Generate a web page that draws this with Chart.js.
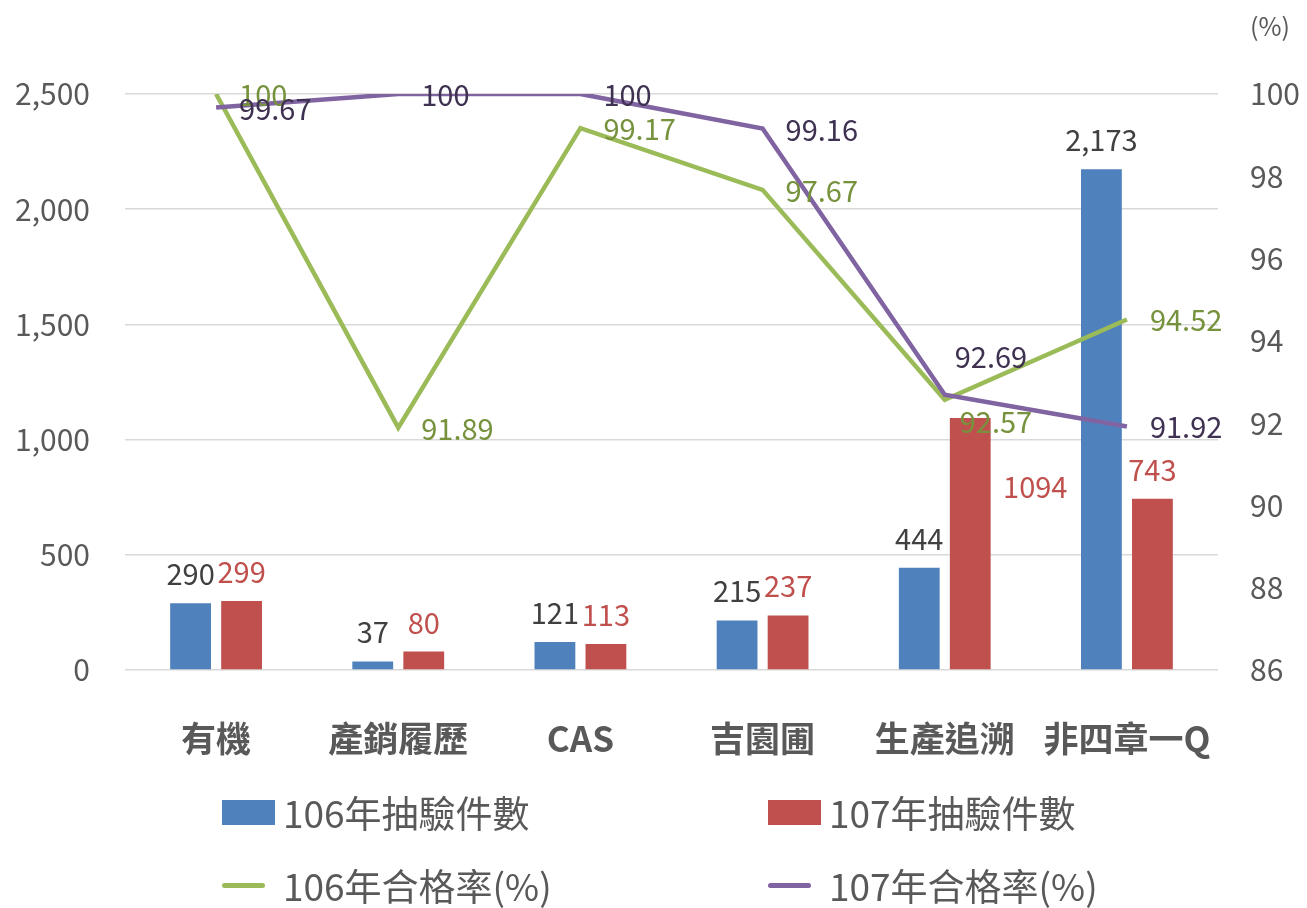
<!DOCTYPE html>
<html>
<head>
<meta charset="utf-8">
<script src="https://cdn.jsdelivr.net/npm/chart.js@4"></script>
<style>
  html, body { margin: 0; padding: 0; background: #fff; }
  #wrap { position: relative; width: 1307px; height: 908px; overflow: hidden; }
  #legend { position: absolute; left: 0; top: 0; width: 1307px; height: 908px; pointer-events: none;
            font-family: 'Noto Sans CJK TC', 'Noto Sans', sans-serif; color: #595959; font-size: 37px; }
  .lg-item { position: absolute; display: flex; align-items: center; height: 44px; }
  .lg-mark { flex: none; margin-right: 8px; }
</style>
</head>
<body>
<div id="wrap">
  <canvas id="chart" width="1307" height="908"></canvas>
  <div id="legend"></div>
</div>
<script>
// data
const categories = ['有機', '產銷履歷', 'CAS', '吉園圃', '生產追溯', '非四章一Q'];
const count106 = [290, 37, 121, 215, 444, 2173];
const count107 = [299, 80, 113, 237, 1094, 743];
const rate106 = [100, 91.89, 99.17, 97.67, 92.57, 94.52];
const rate107 = [99.67, 100, 100, 99.16, 92.69, 91.92];
const countTicks = [0, 500, 1000, 1500, 2000, 2500];
const rateTicks = [86, 88, 90, 92, 94, 96, 98, 100];

const FONT = "'Noto Sans CJK TC', 'Noto Sans', sans-serif";
const GRAY = '#595959';

// label colours / formats per dataset
const labelStyle = [
    { color: '#404040', fmt: v => v.toLocaleString('en-US') },
    { color: '#C0504D', fmt: v => String(v) },
    { color: '#76923C', fmt: v => String(v) },
    { color: '#3F3151', fmt: v => String(v) }
];
// hand-moved labels in the original: [dataset][point] -> [dx, dy]
const labelNudge = {
    1: { 4: [65, 98] },
    2: { 4: [-8, 21] },
    3: { 4: [-13, -39] }
};

const dataLabels = {
    id: 'dataLabels',
    afterDatasetsDraw(chart) {
        const ctx = chart.ctx;
        ctx.save();
        ctx.font = '29px ' + FONT;
        chart.data.datasets.forEach((ds, i) => {
            const meta = chart.getDatasetMeta(i);
            const st = labelStyle[i];
            meta.data.forEach((el, j) => {
                const p = el.getProps(['x', 'y'], true);
                const n = (labelNudge[i] && labelNudge[i][j]) || [0, 0];
                ctx.fillStyle = st.color;
                ctx.textBaseline = 'middle';
                if (ds.type === 'bar') {
                    ctx.textAlign = 'center';
                    ctx.fillText(st.fmt(ds.data[j]), p.x + n[0], p.y - 29 + n[1]);
                } else {
                    ctx.textAlign = 'left';
                    ctx.fillText(st.fmt(ds.data[j]), p.x + 23 + n[0], p.y + 1 + n[1]);
                }
            });
        });
        // unit of the right axis
        const r = chart.scales.y1;
        ctx.fillStyle = GRAY;
        ctx.font = '25px ' + FONT;
        ctx.textAlign = 'left';
        ctx.fillText('(%)', r.left + 32, 26);
        ctx.restore();
    }
};

const chart = new Chart(document.getElementById('chart'), {
    data: {
        labels: categories,
        datasets: [
            { type: 'bar', label: '106年抽驗件數', data: count106, backgroundColor: '#4F81BD', yAxisID: 'y', order: 3,
              categoryPercentage: 0.56, barPercentage: 0.8 },
            { type: 'bar', label: '107年抽驗件數', data: count107, backgroundColor: '#C0504D', yAxisID: 'y', order: 3,
              categoryPercentage: 0.56, barPercentage: 0.8 },
            { type: 'line', label: '106年合格率(%)', data: rate106, borderColor: '#9BBB59', backgroundColor: '#9BBB59',
              borderWidth: 4.5, pointRadius: 0, tension: 0, yAxisID: 'y1', order: 2 },
            { type: 'line', label: '107年合格率(%)', data: rate107, borderColor: '#8064A2', backgroundColor: '#8064A2',
              borderWidth: 4.5, pointRadius: 0, tension: 0, yAxisID: 'y1', order: 1 }
        ]
    },
    options: {
        responsive: false,
        animation: false,
        devicePixelRatio: 1,
        layout: { padding: { top: 94, bottom: 148, left: 0, right: 0 } },
        plugins: {
            legend: { display: false },
            tooltip: { enabled: false }
        },
        scales: {
            x: {
                grid: { display: false },
                border: { display: false },
                ticks: { color: GRAY, font: { family: FONT, size: 35, weight: 'bold' }, padding: 40, maxRotation: 0 },
                afterFit: s => { s.height = 90; }
            },
            y: {
                position: 'left',
                min: 0, max: 2500,
                afterBuildTicks: s => { s.ticks = countTicks.map(v => ({ value: v })); },
                grid: { color: '#D9D9D9', lineWidth: 1.5, drawTicks: false },
                border: { display: false },
                ticks: { color: GRAY, font: { family: FONT, size: 30 }, padding: 35,
                         callback: v => v.toLocaleString('en-US') },
                afterFit: s => { s.width = 125; }
            },
            y1: {
                position: 'right',
                min: 86, max: 100,
                afterBuildTicks: s => { s.ticks = rateTicks.map(v => ({ value: v })); },
                grid: { display: false, drawTicks: false },
                border: { display: false },
                ticks: { color: GRAY, font: { family: FONT, size: 30 }, padding: 32 },
                afterFit: s => { s.width = 89; }
            }
        }
    },
    plugins: [dataLabels]
});

// html legend, 2 x 2 like the original
const legendSlots = [[222, 790], [768, 790], [222, 863], [768, 863]];
const legendEl = document.getElementById('legend');
chart.data.datasets.forEach((ds, i) => {
    const item = document.createElement('div');
    item.className = 'lg-item';
    item.style.left = legendSlots[i][0] + 'px';
    item.style.top = legendSlots[i][1] + 'px';
    const mark = document.createElement('span');
    mark.className = 'lg-mark';
    if (ds.type === 'bar') {
        mark.style.cssText = `width:53px;height:25px;background:${ds.backgroundColor};margin-right:8px;`;
    } else {
        mark.style.cssText = `width:43px;height:5px;border-radius:3px;background:${ds.borderColor};margin-right:18px;`;
    }
    const txt = document.createElement('span');
    txt.textContent = ds.label;
    item.appendChild(mark);
    item.appendChild(txt);
    legendEl.appendChild(item);
});
</script>
</body>
</html>
